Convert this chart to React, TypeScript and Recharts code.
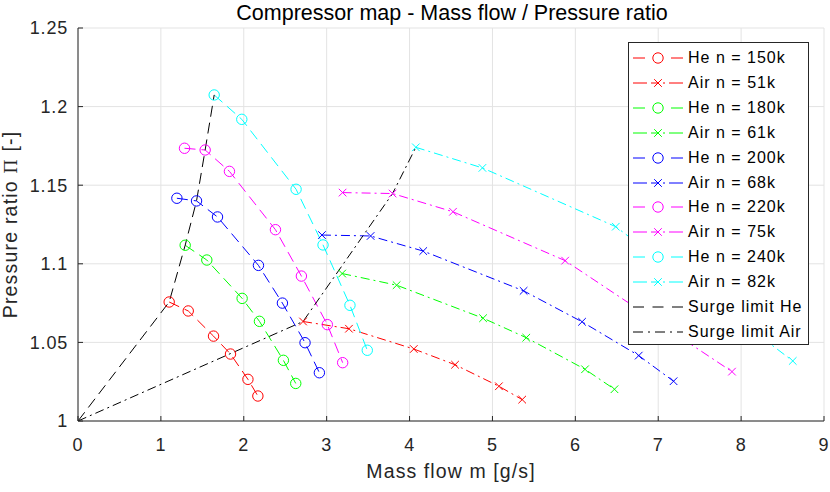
import { LineChart, Line, XAxis, YAxis, CartesianGrid, Legend } from "recharts";

const massFlowTicks = [0, 1, 2, 3, 4, 5, 6, 7, 8, 9];
const pressureTicks = [1, 1.05, 1.1, 1.15, 1.2, 1.25];

// helium runs (circles, dashed)
const he150Flow = [1.1, 1.33, 1.635, 1.84, 2.05, 2.17];
const he150Ratio = [1.0757, 1.07, 1.054, 1.0426, 1.0265, 1.0159];
const he180Flow = [1.293, 1.554, 1.98, 2.189, 2.478, 2.627];
const he180Ratio = [1.1118, 1.1024, 1.078, 1.0634, 1.0386, 1.0239];
const he200Flow = [1.193, 1.43, 1.683, 2.177, 2.466, 2.739, 2.912];
const he200Ratio = [1.1417, 1.14, 1.1298, 1.099, 1.075, 1.0498, 1.0307];
const he220Flow = [1.285, 1.534, 1.827, 2.382, 2.695, 3.008, 3.193];
const he220Ratio = [1.1735, 1.1724, 1.1588, 1.1217, 1.0922, 1.0613, 1.0371];
const he240Flow = [1.643, 1.976, 2.631, 2.956, 3.281, 3.49];
const he240Ratio = [1.2074, 1.1919, 1.1474, 1.112, 1.0736, 1.045];

// air runs (crosses, dash-dot)
const air51Flow = [2.715, 3.269, 4.051, 4.549, 5.078, 5.359];
const air51Ratio = [1.0633, 1.0587, 1.0458, 1.0358, 1.0221, 1.0136];
const air61Flow = [3.187, 3.844, 4.887, 5.408, 6.117, 6.472];
const air61Ratio = [1.0938, 1.0864, 1.0654, 1.053, 1.0329, 1.0202];
const air68Flow = [2.943, 3.53, 4.165, 5.376, 6.081, 6.765, 7.185];
const air68Ratio = [1.1183, 1.1177, 1.1081, 1.0828, 1.0631, 1.0416, 1.0253];
const air75Flow = [3.192, 3.795, 4.524, 5.877, 7.89];
const air75Ratio = [1.1453, 1.1447, 1.1331, 1.102, 1.0314];
const air82Flow = [4.076, 4.879, 6.488, 8.623];
const air82Ratio = [1.1741, 1.161, 1.1236, 1.0382];

// surge limits
const surgeHeFlow = [0, 1.1, 1.293, 1.43, 1.534, 1.643];
const surgeHeRatio = [1, 1.0757, 1.1118, 1.14, 1.1724, 1.2074];
const surgeAirFlow = [0, 2.715, 3.795, 4.076];
const surgeAirRatio = [1, 1.0633, 1.1447, 1.1741];

const zip = (xs: number[], ys: number[]) => xs.map((x, i) => ({ x, y: ys[i] }));

const HE_DASH = "11 6";
const AIR_DASH = "9 4 2 4";

type Series = {
  name: string;
  color: string;
  dash: string;
  marker: "o" | "x" | "none";
  data: { x: number; y: number }[];
};

const series: Series[] = [
  { name: "He n = 150k", color: "#ff0000", dash: HE_DASH, marker: "o", data: zip(he150Flow, he150Ratio) },
  { name: "Air n = 51k", color: "#ff0000", dash: AIR_DASH, marker: "x", data: zip(air51Flow, air51Ratio) },
  { name: "He n = 180k", color: "#00ff00", dash: HE_DASH, marker: "o", data: zip(he180Flow, he180Ratio) },
  { name: "Air n = 61k", color: "#00ff00", dash: AIR_DASH, marker: "x", data: zip(air61Flow, air61Ratio) },
  { name: "He n = 200k", color: "#0000ff", dash: HE_DASH, marker: "o", data: zip(he200Flow, he200Ratio) },
  { name: "Air n = 68k", color: "#0000ff", dash: AIR_DASH, marker: "x", data: zip(air68Flow, air68Ratio) },
  { name: "He n = 220k", color: "#ff00ff", dash: HE_DASH, marker: "o", data: zip(he220Flow, he220Ratio) },
  { name: "Air n = 75k", color: "#ff00ff", dash: AIR_DASH, marker: "x", data: zip(air75Flow, air75Ratio) },
  { name: "He n = 240k", color: "#00ffff", dash: HE_DASH, marker: "o", data: zip(he240Flow, he240Ratio) },
  { name: "Air n = 82k", color: "#00ffff", dash: AIR_DASH, marker: "x", data: zip(air82Flow, air82Ratio) },
  { name: "Surge limit He", color: "#000000", dash: HE_DASH, marker: "none", data: zip(surgeHeFlow, surgeHeRatio) },
  { name: "Surge limit Air", color: "#000000", dash: AIR_DASH, marker: "none", data: zip(surgeAirFlow, surgeAirRatio) },
];

const FONT = "'Liberation Sans', Arial, Helvetica, sans-serif";
const AXIS = "#262626";

function Marker({ kind, cx, cy, color }: { kind: string; cx: number; cy: number; color: string }) {
  if (kind === "o") {
    return <circle cx={cx} cy={cy} r={5.2} fill="none" stroke={color} strokeWidth={1} />;
  }
  if (kind === "x") {
    const d = 3.8;
    return (
      <g stroke={color} strokeWidth={1}>
        <line x1={cx - d} y1={cy - d} x2={cx + d} y2={cy + d} />
        <line x1={cx - d} y1={cy + d} x2={cx + d} y2={cy - d} />
      </g>
    );
  }
  return null;
}

function LegendSample({ s }: { s: Series }) {
  if (s.marker === "none") {
    const pattern = s.dash === HE_DASH ? "11 8.5" : "10 5 2 5";
    return <line x1={4} x2={54} y1={10} y2={10} stroke={s.color} strokeWidth={1} strokeDasharray={pattern} />;
  }
  return (
    <g>
      <line x1={4} x2={16} y1={10} y2={10} stroke={s.color} strokeWidth={1} />
      <line x1={42} x2={54} y1={10} y2={10} stroke={s.color} strokeWidth={1} />
      {s.marker === "x" && <line x1={16} x2={42} y1={10} y2={10} stroke={s.color} strokeWidth={1} strokeDasharray="2 4 8 4" />}
      <Marker kind={s.marker} cx={29} cy={10} color={s.color} />
    </g>
  );
}

function LegendBox() {
  return (
    <div
      style={{
        boxSizing: "border-box",
        width: 181,
        height: 303,
        border: `1px solid ${AXIS}`,
        background: "#fff",
        paddingTop: 3,
        fontFamily: FONT,
      }}
    >
      {series.map((s) => (
        <div key={s.name} style={{ display: "flex", alignItems: "center", height: 24.85 }}>
          <svg width={59} height={20} style={{ flex: "none" }}>
            <LegendSample s={s} />
          </svg>
          <span style={{ fontSize: 16, letterSpacing: 1, color: "#000", whiteSpace: "nowrap" }}>{s.name}</span>
        </div>
      ))}
    </div>
  );
}

export default function App() {
  return (
    <div style={{ position: "absolute", left: 0, top: 0, width: 830, height: 492, background: "#fff", fontFamily: FONT }}>
      <LineChart width={830} height={492} margin={{ top: 28, right: 6, left: 0, bottom: 0 }}>
        <CartesianGrid stroke="#e3e3e3" strokeWidth={1} />
        <XAxis
          type="number"
          dataKey="x"
          domain={[0, 9]}
          ticks={massFlowTicks}
          interval={0}
          height={71}
          allowDataOverflow
          stroke={AXIS}
          tickSize={-5}
          tickMargin={22}
          tick={{ fill: AXIS, fontSize: 18, letterSpacing: 0.8 }}
        />
        <YAxis
          type="number"
          domain={[1, 1.25]}
          ticks={pressureTicks}
          interval={0}
          width={78}
          allowDataOverflow
          stroke={AXIS}
          tickSize={-5}
          tickMargin={15}
          tickFormatter={(v: number) => String(Number(v.toFixed(2)))}
          tick={{ fill: AXIS, fontSize: 18, letterSpacing: 0.8 }}
        />
        {series.map((s) => (
          <Line
            key={s.name}
            data={s.data}
            dataKey="y"
            name={s.name}
            type="linear"
            stroke={s.color}
            strokeWidth={1}
            strokeDasharray={s.dash}
            dot={(p: any) => <Marker key={`${s.name}-${p.index}`} kind={s.marker} cx={p.cx} cy={p.cy} color={s.color} />}
            activeDot={false}
            isAnimationActive={false}
          />
        ))}
        <Legend
          layout="vertical"
          align="center"
          verticalAlign="middle"
          wrapperStyle={{ left: 628, top: 42, width: 181, height: 303 }}
          content={() => <LegendBox />}
        />
        <text x={452} y={20} textAnchor="middle" fontSize={21.5} fill="#000" style={{ fontFamily: FONT }}>
          Compressor map - Mass flow / Pressure ratio
        </text>
        <text x={451} y={478} textAnchor="middle" fontSize={19.5} letterSpacing={1.1} fill={AXIS} style={{ fontFamily: FONT }}>
          Mass flow m [g/s]
        </text>
        <text
          x={0}
          y={0}
          transform="translate(17, 224.5) rotate(-90)"
          textAnchor="middle"
          fontSize={19.5}
          letterSpacing={1.2}
          fill={AXIS}
          style={{ fontFamily: FONT }}
        >
          Pressure ratio <tspan style={{ fontFamily: "'Liberation Serif', serif" }}>Π</tspan> [-]
        </text>
      </LineChart>
    </div>
  );
}
